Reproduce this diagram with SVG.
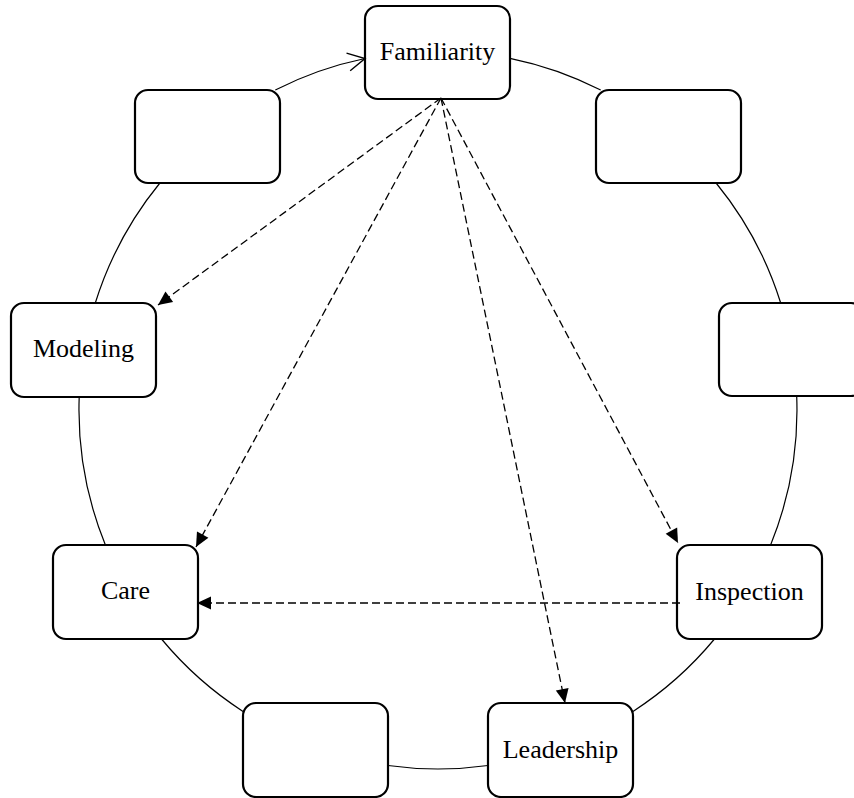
<svg xmlns="http://www.w3.org/2000/svg" width="854" height="798" viewBox="0 0 854 798">
  <style>
    .node rect { fill: #ffffff; stroke: #000000; stroke-width: 2.2; }
    .node text { font-family: "Liberation Serif", "Times New Roman", serif; font-size: 26px; fill: #000000; text-anchor: middle; }
    .arc { fill: none; stroke: #000000; stroke-width: 1.2; }
    .dash { fill: none; stroke: #000000; stroke-width: 1.3; stroke-dasharray: 8 4; }
  </style>
  <defs>
    <marker id="open" markerUnits="userSpaceOnUse" markerWidth="20" markerHeight="20" refX="17" refY="9" orient="auto" overflow="visible">
      <path d="M0,0 L17,9 L0,18" fill="none" stroke="#000000" stroke-width="1.4"/>
    </marker>
    <marker id="filled" markerUnits="userSpaceOnUse" markerWidth="15" markerHeight="13" refX="14" refY="6.5" orient="auto" overflow="visible">
      <path d="M0,0 L14,6.5 L0,13 Z" fill="#000000" stroke="none"/>
    </marker>
  </defs>

  <g id="node-familiarity" class="node">
    <rect x="365" y="6" width="145" height="93" rx="13"/>
    <text x="437.5" y="60">Familiarity</text>
  </g>
  <g id="node-top-left" class="node">
    <rect x="135" y="90" width="145" height="93" rx="13"/>
  </g>
  <g id="node-top-right" class="node">
    <rect x="596" y="90" width="145" height="93" rx="13"/>
  </g>
  <g id="node-right" class="node">
    <rect x="719" y="303" width="145" height="93" rx="13"/>
  </g>
  <g id="node-modeling" class="node">
    <rect x="11" y="303" width="145" height="94" rx="13"/>
    <text x="83.5" y="357">Modeling</text>
  </g>
  <g id="node-care" class="node">
    <rect x="53" y="545" width="145" height="94" rx="13"/>
    <text x="125.5" y="599">Care</text>
  </g>
  <g id="node-inspection" class="node">
    <rect x="677" y="545" width="145" height="94" rx="13"/>
    <text x="749.5" y="600">Inspection</text>
  </g>
  <g id="node-bottom-left" class="node">
    <rect x="243" y="703" width="145" height="94" rx="13"/>
  </g>
  <g id="node-leadership" class="node">
    <rect x="488" y="703" width="145" height="94" rx="13"/>
    <text x="560.5" y="758">Leadership</text>
  </g>

  <g id="connectors">
    <path class="arc" d="M275.3,90 A359,359 0 0 1 365,58.5" marker-end="url(#open)"/>
    <path class="arc" d="M510,58.3 A359,359 0 0 1 600.7,90"/>
    <path class="arc" d="M716.1,183 A359,359 0 0 1 780.7,303"/>
    <path class="arc" d="M796.7,396 A359,359 0 0 1 770.6,545"/>
    <path class="arc" d="M714.5,639 A359,359 0 0 1 633,711.4"/>
    <path class="arc" d="M488,765.5 A359,359 0 0 1 388,765.5"/>
    <path class="arc" d="M243,711.4 A359,359 0 0 1 161.5,639"/>
    <path class="arc" d="M105.4,545 A359,359 0 0 1 79.2,397"/>
    <path class="arc" d="M95.3,303 A359,359 0 0 1 159.9,183"/>

    <path class="dash" d="M441,98 L158,305" marker-end="url(#filled)"/>
    <path class="dash" d="M441,98 L196,547" marker-end="url(#filled)"/>
    <path class="dash" d="M441,98 L678,543" marker-end="url(#filled)"/>
    <path class="dash" d="M441,98 L565,703" marker-end="url(#filled)"/>
    <path class="dash" d="M680,603 L197,603" marker-end="url(#filled)"/>
  </g>
</svg>
